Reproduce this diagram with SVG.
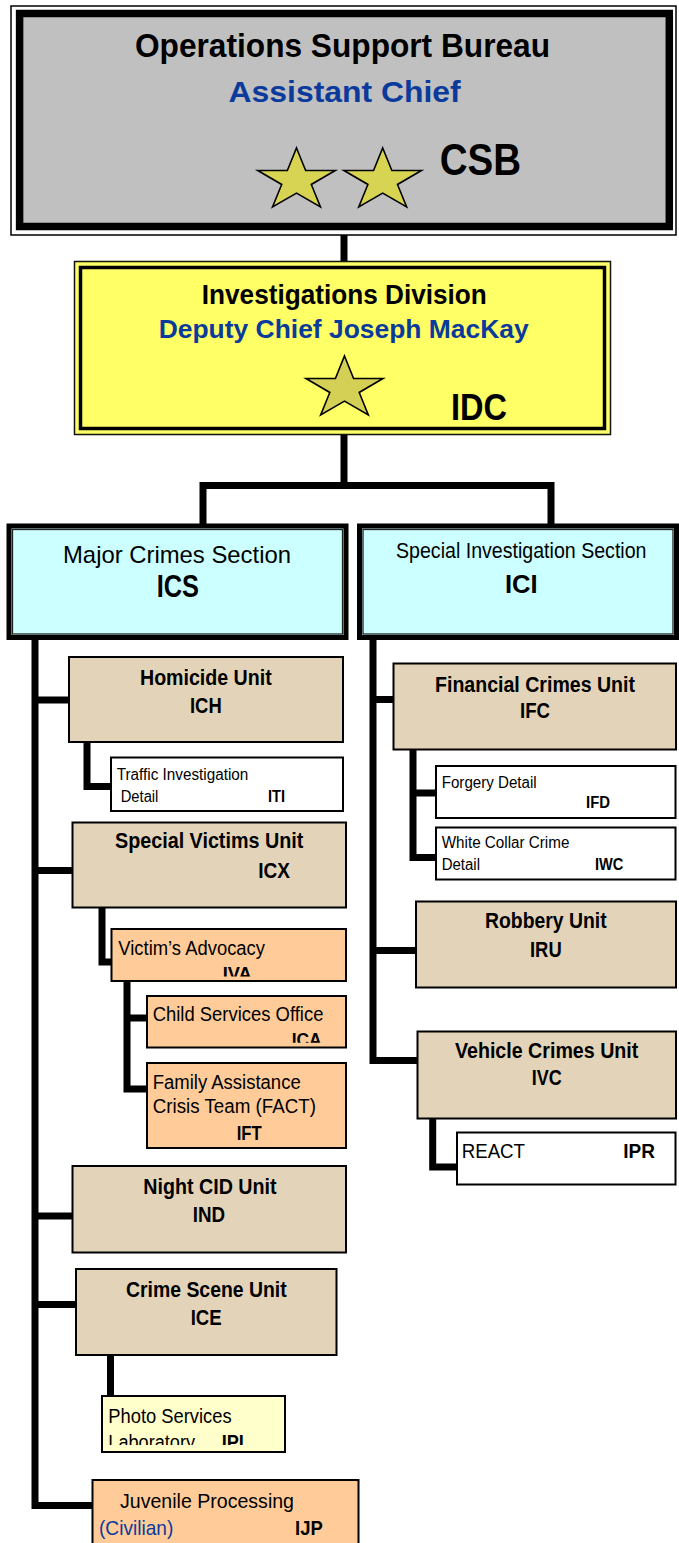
<svg xmlns="http://www.w3.org/2000/svg" xmlns:xlink="http://www.w3.org/1999/xlink" width="679" height="1543" viewBox="0 0 679 1543">
<style>
text{font-family:"Liberation Sans Narrow","Liberation Sans",Arial,sans-serif;fill:#000}
.b{font-weight:bold}
.blue{fill:#0A3A9C}
.unit{fill:#E3D4B9;stroke:#000;stroke-width:2}
.peach{fill:#FFCC99;stroke:#000;stroke-width:2}
.white{fill:#FFFFFF;stroke:#000;stroke-width:2}
.lyel{fill:#FFFFCC;stroke:#000;stroke-width:2}
.sec{fill:#CCFFFF;stroke:#000;stroke-width:5}
.secin{fill:none;stroke:#222;stroke-width:1.3}
.conn path{fill:none;stroke:#000;stroke-width:7;stroke-linejoin:miter;stroke-linecap:butt}
.star{stroke:#000;stroke-width:1.6;vector-effect:non-scaling-stroke}
</style>
<defs>
<polygon id="star" class="star" points="0,-1 0.2245,-0.309 0.951,-0.309 0.363,0.118 0.588,0.809 0,0.382 -0.588,0.809 -0.363,0.118 -0.951,-0.309 -0.2245,-0.309"/>
<clipPath id="clipIVA"><rect x="111" y="929" width="235" height="47.5"/></clipPath>
<clipPath id="clipICA"><rect x="147" y="996" width="199" height="46.7"/></clipPath>
<clipPath id="clipIPL"><rect x="102" y="1396" width="183" height="49"/></clipPath>
</defs>

<g id="connectors" class="conn">
<path d="M344,230 V262"/>
<path d="M344,435 V485.5"/>
<path d="M203,524 V485.5 H551 V524"/>
<path d="M35,640 V1505.5 H93"/>
<path d="M35,700 H69"/>
<path d="M35,870.5 H73"/>
<path d="M35,1216 H73"/>
<path d="M35,1304.5 H78"/>
<path d="M87,743 V786.5 H111"/>
<path d="M102,908 V962 H112"/>
<path d="M127,982 V1089 H147"/>
<path d="M127,1018 H147"/>
<path d="M110.5,1356 V1396"/>
<path d="M373,640 V1060.5 H418"/>
<path d="M373,699.5 H394"/>
<path d="M373,950.5 H416"/>
<path d="M413,750 V857.5 H437"/>
<path d="M413,793 H437"/>
<path d="M432.7,1119 V1167 H457"/>
</g>

<g id="CSB">
<rect x="11" y="6" width="665" height="229" fill="#FFFFFF" stroke="#000" stroke-width="1.5"/>
<rect x="19.6" y="13.5" width="649.7" height="213" fill="#C0C0C0" stroke="#000" stroke-width="7.5"/>
<text class="b" x="135" y="57" font-size="34" textLength="415" lengthAdjust="spacingAndGlyphs">Operations Support Bureau</text>
<text class="b blue" x="228.6" y="102" font-size="30" textLength="232" lengthAdjust="spacingAndGlyphs">Assistant Chief</text>
<use xlink:href="#star" fill="#D6D452" transform="translate(296.5,180.6) scale(40.75,32.6)"/>
<use xlink:href="#star" fill="#D6D452" transform="translate(382.7,180.6) scale(40.75,32.6)"/>
<text class="b" x="439.7" y="175" font-size="44" textLength="81.4" lengthAdjust="spacingAndGlyphs">CSB</text>
</g>

<g id="IDC">
<rect x="74.5" y="261.5" width="536" height="173" fill="#FFFF66" stroke="#111" stroke-width="1.5"/>
<rect x="80.5" y="267.5" width="524" height="161" fill="none" stroke="#000" stroke-width="3.5"/>
<text class="b" x="201.8" y="303.5" font-size="28" textLength="285" lengthAdjust="spacingAndGlyphs">Investigations Division</text>
<text class="b blue" x="158.7" y="337.5" font-size="26" textLength="370" lengthAdjust="spacingAndGlyphs">Deputy Chief Joseph MacKay</text>
<use xlink:href="#star" fill="#D4CF55" transform="translate(344.5,388.6) scale(40.5,32.6)"/>
<text class="b" x="451" y="420" font-size="37" textLength="56" lengthAdjust="spacingAndGlyphs">IDC</text>
</g>

<g id="ICS">
<rect class="sec" x="9" y="526" width="337" height="111.5"/>
<rect class="secin" x="12.5" y="529.5" width="330" height="104.5"/>
<text x="63" y="563" font-size="24" textLength="228" lengthAdjust="spacingAndGlyphs">Major Crimes Section</text>
<text class="b" x="156.7" y="596.5" font-size="32" textLength="42.3" lengthAdjust="spacingAndGlyphs">ICS</text>
</g>

<g id="ICI">
<rect class="sec" x="359.5" y="526" width="317" height="111.5"/>
<rect class="secin" x="363" y="529.5" width="310" height="104.5"/>
<text x="396" y="558" font-size="22" textLength="250.5" lengthAdjust="spacingAndGlyphs">Special Investigation Section</text>
<text class="b" x="505" y="593.3" font-size="26" textLength="32.7" lengthAdjust="spacingAndGlyphs">ICI</text>
</g>

<g id="ICH">
<rect class="unit" x="69" y="657" width="274" height="85"/>
<text class="b" x="140" y="685" font-size="22" textLength="131.7" lengthAdjust="spacingAndGlyphs">Homicide Unit</text>
<text class="b" x="190" y="713" font-size="22" textLength="31.7" lengthAdjust="spacingAndGlyphs">ICH</text>
</g>

<g id="ITI">
<rect class="white" x="111" y="757.5" width="232" height="53.5"/>
<text x="116.7" y="780" font-size="16" textLength="131.6" lengthAdjust="spacingAndGlyphs">Traffic Investigation</text>
<text x="120.7" y="801.7" font-size="16" textLength="37.7" lengthAdjust="spacingAndGlyphs">Detail</text>
<text class="b" x="268" y="801.7" font-size="16" textLength="17" lengthAdjust="spacingAndGlyphs">ITI</text>
</g>

<g id="ICX">
<rect class="unit" x="72.5" y="822.5" width="273.5" height="85"/>
<text class="b" x="115" y="848.3" font-size="22" textLength="188.3" lengthAdjust="spacingAndGlyphs">Special Victims Unit</text>
<text class="b" x="258.3" y="878.3" font-size="22" textLength="31.7" lengthAdjust="spacingAndGlyphs">ICX</text>
</g>

<g id="IVA">
<rect class="peach" x="111.5" y="929" width="234.5" height="52"/>
<text x="118.3" y="955" font-size="20" textLength="146.7" lengthAdjust="spacingAndGlyphs">Victim’s Advocacy</text>
<text class="b" x="222.7" y="979.6" font-size="18" textLength="29" lengthAdjust="spacingAndGlyphs" clip-path="url(#clipIVA)">IVA</text>
</g>

<g id="ICA">
<rect class="peach" x="147" y="996" width="199" height="51.5"/>
<text x="152.7" y="1020.7" font-size="20" textLength="170.7" lengthAdjust="spacingAndGlyphs">Child Services Office</text>
<text class="b" x="291.7" y="1046.2" font-size="18" textLength="30" lengthAdjust="spacingAndGlyphs" clip-path="url(#clipICA)">ICA</text>
</g>

<g id="IFT">
<rect class="peach" x="147" y="1063" width="199" height="85"/>
<text x="152.7" y="1089.3" font-size="20" textLength="148" lengthAdjust="spacingAndGlyphs">Family Assistance</text>
<text x="152.7" y="1113.3" font-size="20" textLength="163.3" lengthAdjust="spacingAndGlyphs">Crisis Team (FACT)</text>
<text class="b" x="236.7" y="1140" font-size="20" textLength="25" lengthAdjust="spacingAndGlyphs">IFT</text>
</g>

<g id="IND">
<rect class="unit" x="72.5" y="1166" width="273.5" height="86.5"/>
<text class="b" x="143.3" y="1194" font-size="22" textLength="133.3" lengthAdjust="spacingAndGlyphs">Night CID Unit</text>
<text class="b" x="192.7" y="1221.7" font-size="22" textLength="32.3" lengthAdjust="spacingAndGlyphs">IND</text>
</g>

<g id="ICE">
<rect class="unit" x="76" y="1269" width="260.5" height="86"/>
<text class="b" x="126" y="1296.7" font-size="22" textLength="160.7" lengthAdjust="spacingAndGlyphs">Crime Scene Unit</text>
<text class="b" x="190.7" y="1325" font-size="22" textLength="31" lengthAdjust="spacingAndGlyphs">ICE</text>
</g>

<g id="IPL">
<rect class="lyel" x="102" y="1396" width="183" height="56"/>
<text x="108.3" y="1422.7" font-size="20" textLength="123.3" lengthAdjust="spacingAndGlyphs">Photo Services</text>
<g clip-path="url(#clipIPL)">
<text x="108.3" y="1448.6" font-size="20" textLength="86.7" lengthAdjust="spacingAndGlyphs">Laboratory</text>
<text class="b" x="221.7" y="1448.6" font-size="20" textLength="28.3" lengthAdjust="spacingAndGlyphs">IPL</text>
</g>
</g>

<g id="IJP">
<rect class="peach" x="92.5" y="1480" width="266" height="70"/>
<text x="120" y="1507.7" font-size="21" textLength="174" lengthAdjust="spacingAndGlyphs">Juvenile Processing</text>
<text class="blue" x="99" y="1535" font-size="21" textLength="74.3" lengthAdjust="spacingAndGlyphs">(Civilian)</text>
<text class="b" x="295" y="1535" font-size="21" textLength="27.7" lengthAdjust="spacingAndGlyphs">IJP</text>
</g>

<g id="IFC">
<rect class="unit" x="393.5" y="663.5" width="282.5" height="86"/>
<text class="b" x="435" y="691.7" font-size="22" textLength="200" lengthAdjust="spacingAndGlyphs">Financial Crimes Unit</text>
<text class="b" x="520" y="718.3" font-size="22" textLength="30" lengthAdjust="spacingAndGlyphs">IFC</text>
</g>

<g id="IFD">
<rect class="white" x="436" y="766" width="239.5" height="52"/>
<text x="441.7" y="788.3" font-size="16" textLength="95" lengthAdjust="spacingAndGlyphs">Forgery Detail</text>
<text class="b" x="586" y="808.3" font-size="16" textLength="24" lengthAdjust="spacingAndGlyphs">IFD</text>
</g>

<g id="IWC">
<rect class="white" x="436" y="827.5" width="239.5" height="52"/>
<text x="441.7" y="848.3" font-size="16" textLength="127.7" lengthAdjust="spacingAndGlyphs">White Collar Crime</text>
<text x="441.7" y="870" font-size="16" textLength="38.3" lengthAdjust="spacingAndGlyphs">Detail</text>
<text class="b" x="595" y="870" font-size="16" textLength="28.3" lengthAdjust="spacingAndGlyphs">IWC</text>
</g>

<g id="IRU">
<rect class="unit" x="416" y="901.5" width="260" height="86"/>
<text class="b" x="485" y="928.3" font-size="22" textLength="121.7" lengthAdjust="spacingAndGlyphs">Robbery Unit</text>
<text class="b" x="530" y="956.7" font-size="22" textLength="31.7" lengthAdjust="spacingAndGlyphs">IRU</text>
</g>

<g id="IVC">
<rect class="unit" x="417.5" y="1031.5" width="258.5" height="87"/>
<text class="b" x="455" y="1058.3" font-size="22" textLength="183.3" lengthAdjust="spacingAndGlyphs">Vehicle Crimes Unit</text>
<text class="b" x="531.7" y="1085" font-size="22" textLength="30" lengthAdjust="spacingAndGlyphs">IVC</text>
</g>

<g id="IPR">
<rect class="white" x="457" y="1132.5" width="218.5" height="52"/>
<text x="461.7" y="1158.3" font-size="20" textLength="63.3" lengthAdjust="spacingAndGlyphs">REACT</text>
<text class="b" x="623.3" y="1158.3" font-size="20" textLength="31.7" lengthAdjust="spacingAndGlyphs">IPR</text>
</g>
</svg>
